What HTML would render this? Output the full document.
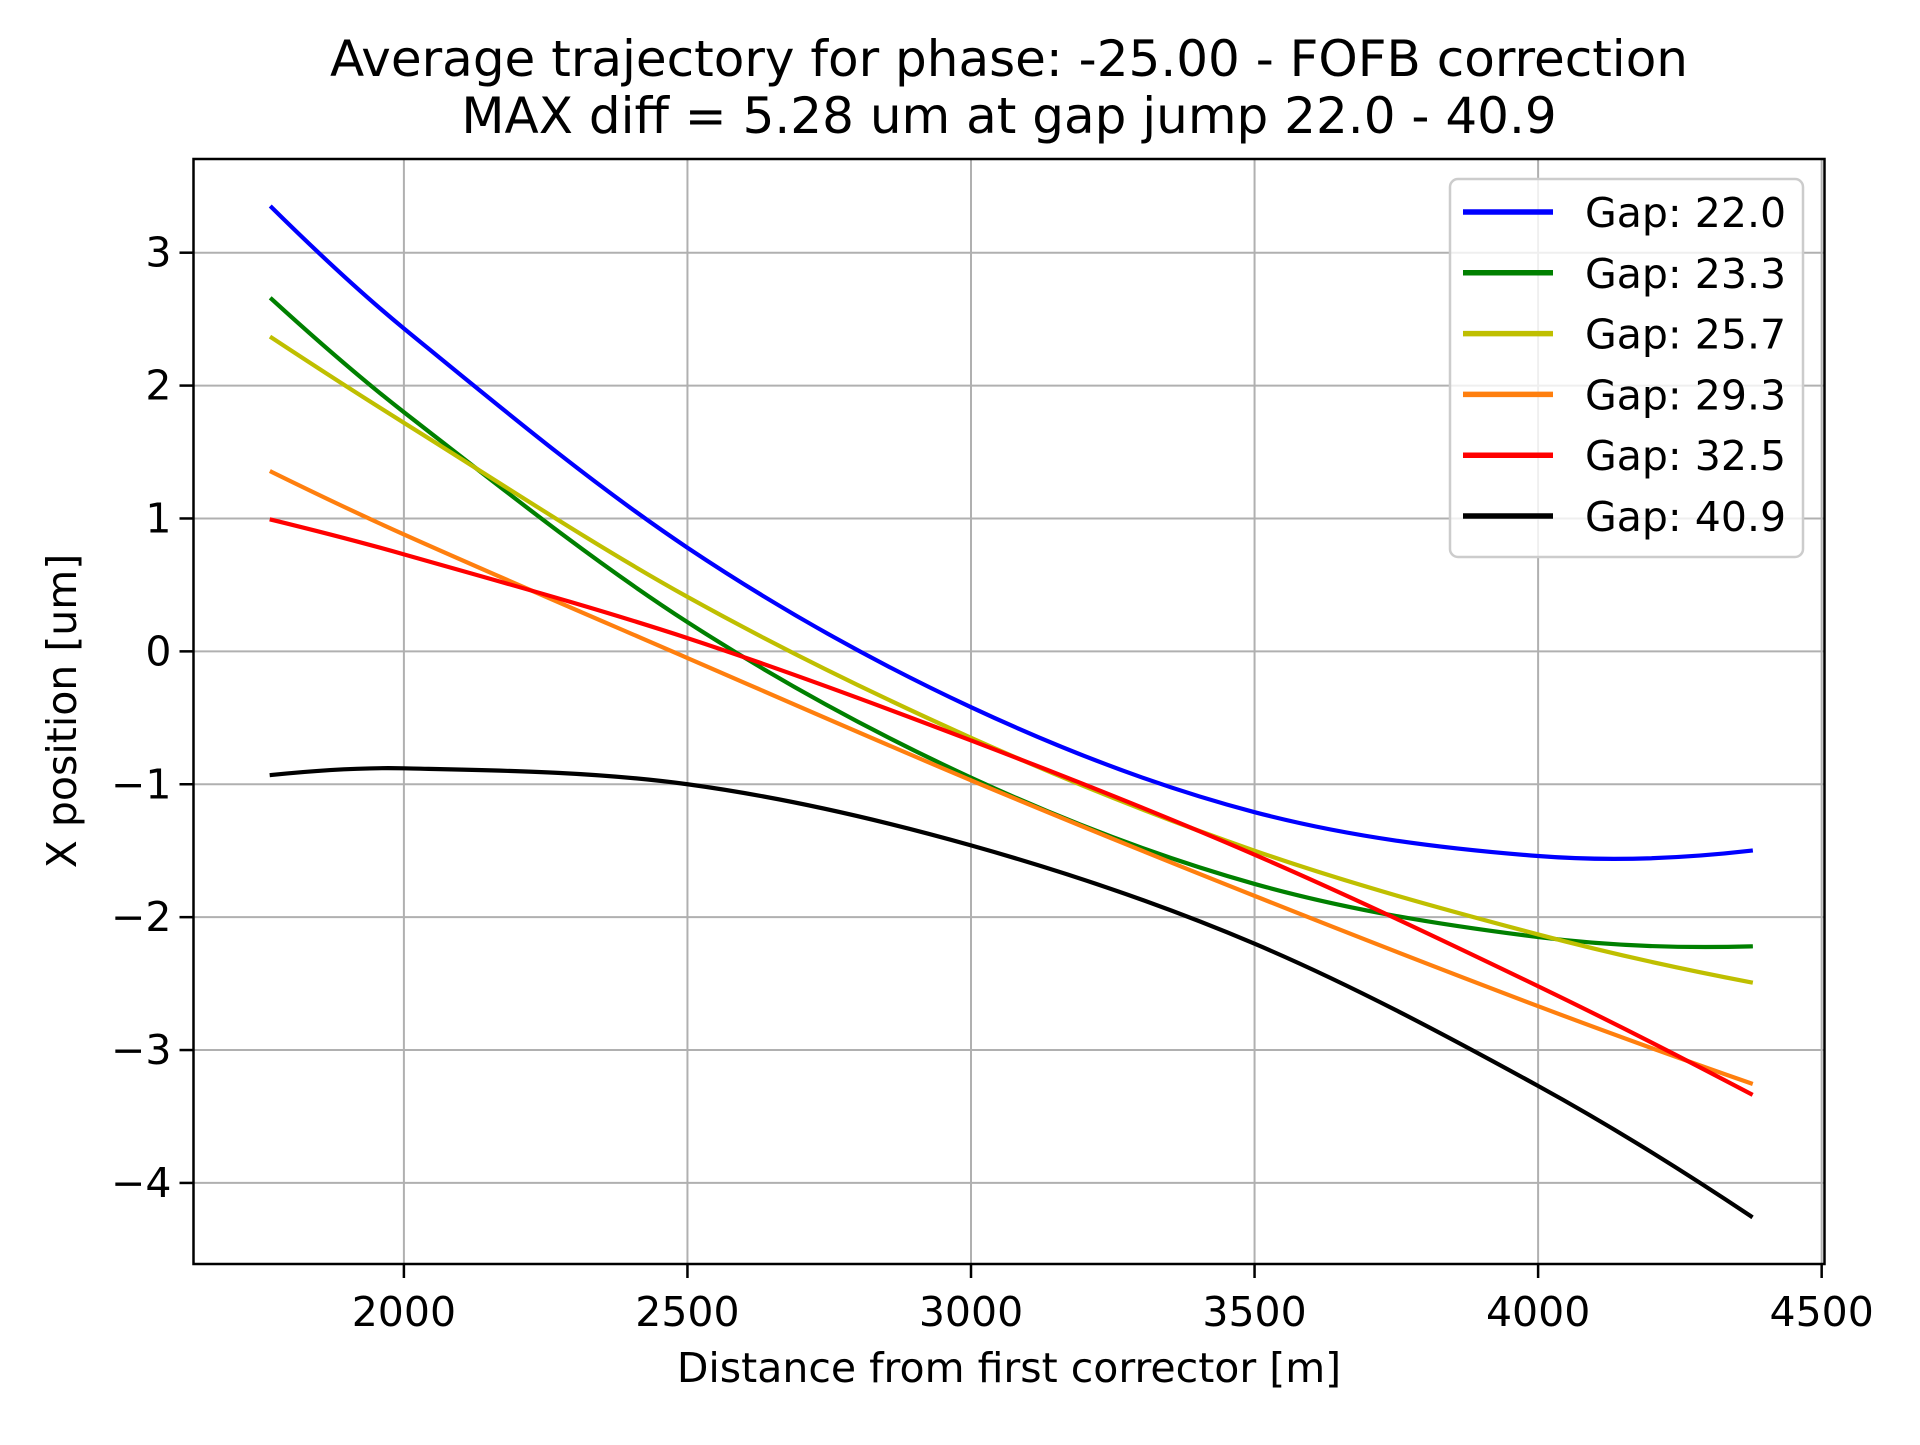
<!DOCTYPE html>
<html><head><meta charset="utf-8"><style>
body{margin:0;background:#fff}
svg text{font-family:"DejaVu Sans","Liberation Sans",sans-serif;fill:#000}
</style></head><body>
<svg id="chart" width="1920" height="1440" xmlns="http://www.w3.org/2000/svg">
<rect width="1920" height="1440" fill="#fff"/>
<g id="grid"></g>
<g id="series"></g>
<rect x="193.5" y="159" width="1631" height="1105" fill="none" stroke="#000" stroke-width="2.5"/>
<g id="ticks"></g>
<text x="1009" y="76" font-size="50" text-anchor="middle">Average trajectory for phase: -25.00 - FOFB correction</text>
<text x="1009" y="133" font-size="50" text-anchor="middle">MAX diff = 5.28 um at gap jump 22.0 - 40.9</text>
<text x="1009" y="1382" font-size="41" text-anchor="middle">Distance from first corrector [m]</text>
<text x="0" y="0" font-size="41" text-anchor="middle" transform="translate(76,711) rotate(-90)">X position [um]</text>
<g id="legend"></g>
</svg>
<script>
const xTicks=[2000,2500,3000,3500,4000,4500];
const yTicks=[3,2,1,0,-1,-2,-3,-4];
const yTickLabels=["3","2","1","0","\u22121","\u22122","\u22123","\u22124"];
const labels=["Gap: 22.0","Gap: 23.3","Gap: 25.7","Gap: 29.3","Gap: 32.5","Gap: 40.9"];
const colors=["#0000ff","#008000","#bfbf00","#ff7f0e","#ff0000","#000000"];
const xs=[1767,2000,2500,3000,3500,4000,4375];
const gap220=[3.34,2.43,0.78,-0.42,-1.21,-1.54,-1.50];
const gap233=[2.65,1.80,0.22,-0.95,-1.75,-2.15,-2.22];
const gap257=[2.36,1.72,0.41,-0.65,-1.50,-2.13,-2.49];
const gap293=[1.35,0.88,-0.05,-0.97,-1.84,-2.67,-3.25];
const gap325=[0.99,0.73,0.10,-0.67,-1.53,-2.52,-3.33];
const gap409=[-0.93,-0.88,-1.00,-1.46,-2.20,-3.27,-4.25];
const seriesData=[gap220,gap233,gap257,gap293,gap325,gap409];
const L=193.5,R=1824.5,T=159,B=1264;
const xmin=1629,xmax=4505,ymin=-4.61,ymax=3.705;
const sx=v=>L+(v-xmin)/(xmax-xmin)*(R-L);
const sy=v=>B-(v-ymin)/(ymax-ymin)*(B-T);
const NS="http://www.w3.org/2000/svg";
function mk(tag,attrs,parent){const e=document.createElementNS(NS,tag);for(const k in attrs)e.setAttribute(k,attrs[k]);parent.appendChild(e);return e;}
const grid=document.getElementById('grid'),ticks=document.getElementById('ticks');
xTicks.forEach(t=>{const x=sx(t);
 const g=mk('line',{x1:x,x2:x,y1:T,y2:B,stroke:'#b0b0b0','stroke-width':2},grid);
 
 
 const tk=mk('line',{x1:x,x2:x,y1:B,y2:B+14,stroke:'#000','stroke-width':2.5},ticks);
 
 
 const tx=mk('text',{x:x,y:B+62,'font-size':41,'text-anchor':'middle'},ticks);tx.textContent=t;
 
 
});
yTicks.forEach((t,i)=>{const y=sy(t);
 const g=mk('line',{x1:L,x2:R,y1:y,y2:y,stroke:'#b0b0b0','stroke-width':2},grid);
 
 
 const tk=mk('line',{x1:L-14,x2:L,y1:y,y2:y,stroke:'#000','stroke-width':2.5},ticks);
 
 
 const tx=mk('text',{x:L-22,y:y+14,'font-size':41,'text-anchor':'end'},ticks);tx.textContent=yTickLabels[i];
 
 
});
function smooth(pts){
 const n=pts.length,m=[];
 for(let i=0;i<n;i++){
  if(i===0)m.push((pts[1][1]-pts[0][1])/(pts[1][0]-pts[0][0])*1.0 - 0.5*((pts[2][1]-pts[1][1])/(pts[2][0]-pts[1][0])-(pts[1][1]-pts[0][1])/(pts[1][0]-pts[0][0])));
  else if(i===n-1)m.push((pts[n-1][1]-pts[n-2][1])/(pts[n-1][0]-pts[n-2][0]) + 0.5*((pts[n-1][1]-pts[n-2][1])/(pts[n-1][0]-pts[n-2][0])-(pts[n-2][1]-pts[n-3][1])/(pts[n-2][0]-pts[n-3][0])));
  else m.push((pts[i+1][1]-pts[i-1][1])/(pts[i+1][0]-pts[i-1][0]));
 }
 let d=`M${pts[0][0]},${pts[0][1]}`;
 for(let i=0;i<n-1;i++){const h=(pts[i+1][0]-pts[i][0])/3;
  d+=` C${pts[i][0]+h},${pts[i][1]+m[i]*h} ${pts[i+1][0]-h},${pts[i+1][1]-m[i+1]*h} ${pts[i+1][0]},${pts[i+1][1]}`;}
 return d;}
const sg=document.getElementById('series');
seriesData.forEach((vals,i)=>{const pts=xs.map((x,j)=>[sx(x),sy(vals[j])]);
 const p=mk('path',{d:smooth(pts),fill:'none',stroke:colors[i],'stroke-width':4.2,'stroke-linecap':'square'},sg);
 
 
});
const lg=document.getElementById('legend');
const box=mk('rect',{x:1450,y:179,width:353,height:378,rx:8,fill:'#fff','fill-opacity':0.8,stroke:'#cccccc','stroke-width':2.5},lg);


labels.forEach((lab,i)=>{const y=212+i*60.8;
 const ln=mk('line',{x1:1463,x2:1553,y1:y,y2:y,stroke:colors[i],'stroke-width':5.5},lg);
 
 
 const t=mk('text',{x:1585,y:y+15,'font-size':41},lg);t.textContent=lab;
 
 
});
</script>
</body></html>
